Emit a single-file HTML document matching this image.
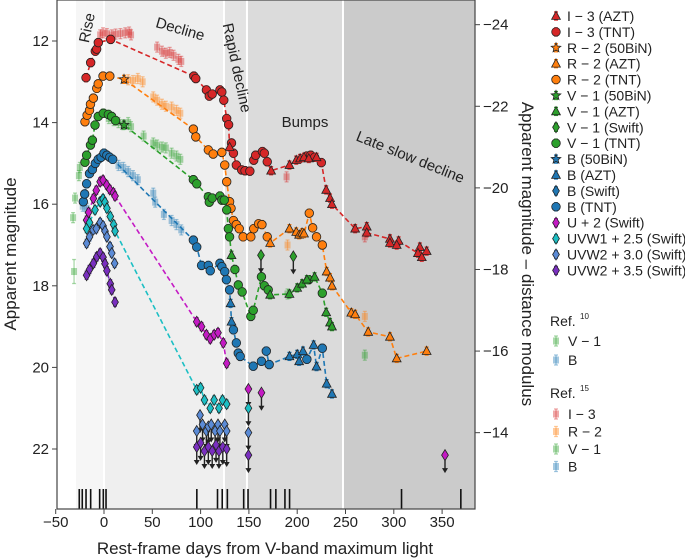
<!DOCTYPE html>
<html><head><meta charset="utf-8"><style>
body{margin:0;background:#fff;}
svg{font-family:"Liberation Sans",sans-serif;display:block}
</style></head><body>
<svg id="chart" width="685" height="560" viewBox="0 0 685 560" xmlns="http://www.w3.org/2000/svg">
<g id="bands"></g>
<g id="marks"></g>
<g id="axes"></g>
<g id="legend"></g>
</svg>
<script>
const PHASE_EDGES=[-29,0,124.2,148,247.4,385];
const PHASE_FILLS=["#f6f6f6","#efefef","#e3e3e3","#dbdbdb","#cbcbcb"];
const EVENTS=[-25.6,-22.5,-18.6,-13.8,-4.5,-0.7,2.1,96.1,117.5,122.4,127.7,144.6,149.1,172.4,177.9,187.3,192.1,308,369.4];
const X_TICKS=[-50,0,50,100,150,200,250,300,350];
const Y_TICKS=[12,14,16,18,20,22];
const Y2_TICKS=[-24,-22,-20,-18,-16,-14];
const DIST_MOD=35.6;

const I3_TNT=[[-18.6,12.9],[-13.8,12.53],[-9,12.25],[-7.6,12.2],[-5.9,12.04],[6.9,11.96],[93,12.86],[95,12.92],[106,13.2],[109,13.35],[112,13.3],[120,13.2],[122,13.25],[124,13.45],[127,13.9],[129,14.05],[132,14.5],[134,14.75],[137,15.04],[142.5,15.16],[146,15.18],[151,15.19],[155,14.92],[157,14.8],[164,14.71],[166,14.75],[169,14.96],[210,14.82],[214,14.8],[218,14.85],[225,14.98]];
const I3_AZT=[[130,14.6],[173,15.18],[192,15.04],[199,14.92],[203,14.88],[207,14.85],[212,14.88],[220,14.85],[230,15.65],[234,15.85],[236,16.0],[260,16.6],[272,16.55],[272,16.7],[296,16.85],[296,16.95],[305,16.9],[303,17.0],[327,17.05],[325,17.2],[334,17.15],[329,17.3]];
const I3_REF15=[[-4,11.85],[-1,11.8],[3,11.82],[8,11.85],[12,11.83],[17,11.82],[22,11.8],[26,11.78],[28,11.85],[55,12.15],[60,12.25],[64,12.3],[68,12.28],[72,12.35],[77,12.45],[80,12.5],[189,15.33],[270,16.8]];
const R_TNT=[[-19.7,13.98],[-17.5,13.82],[-15,13.7],[-14,13.55],[-11,13.4],[-7.5,13.16],[-6,13.05],[-1,12.86],[6,12.86],[92.5,14.16],[95,14.35],[108,14.67],[113,14.77],[122,14.73],[125,15.04],[127,15.45],[130,15.94],[131.5,16.1],[134,16.4],[137,16.5],[140,16.6],[144,16.8],[152,16.8],[155,16.6],[160,16.48],[163.5,16.5],[169,16.8],[212.5,16.22],[216,16.58],[220,16.8],[226,17.0]];
const R_AZT=[[172,16.95],[192,16.6],[199,16.68],[202,16.75],[205,16.7],[207,16.72],[230.5,17.65],[234,17.8],[236,18.0],[256,18.66],[260,18.7],[273.5,19.13],[296,19.25],[303,19.78],[334,19.6]];
const R_50BIN=[[20.7,12.94]];
const R_REF15=[[25,12.95],[30,12.97],[35,12.92],[40,13.0],[51,13.37],[55,13.45],[60,13.55],[64,13.6],[70,13.62],[75,13.7],[79,13.77],[190,17.0],[270,18.75]];
const V_TNT=[[-19.7,14.97],[-18,14.8],[-14,14.55],[-12,14.43],[-9.3,14.06],[-6,13.85],[-0.7,13.77],[4.5,13.8],[8,13.85],[12,13.95],[92.5,15.4],[96,15.5],[108,15.82],[109,15.95],[112,15.85],[120,15.8],[122,15.9],[124.5,15.9],[127,16.14],[128.7,16.6],[130,16.8],[135.5,17.6],[139,17.98],[143,18.15],[152,18.75],[154.5,18.6],[163,17.78],[166,18.0],[170,18.1],[212,17.85],[226,18.18]];
const V_AZT=[[132,17.25],[172,18.22],[192,18.2],[200,18.05],[205,17.95],[210,17.85],[218,17.78],[230,18.65],[234,18.9],[236,19.0]];
const V_50BIN=[[20.7,14.06]];
const V_SWIFT_LIM=[[162.5,17.25],[196,17.28]];
const V_REF10=[[-25,15.1],[-26,15.3],[-30,15.85],[-32,16.33],[-31,17.65]];
const V_REF15=[[5,13.9],[10,13.95],[15,14.0],[20,14.05],[25,14.0],[28,14.1],[41,14.33],[51,14.5],[55,14.55],[60,14.6],[64,14.62],[70,14.75],[75,14.82],[79,14.9],[190,18.2],[270,19.7]];
const B_TNT=[[-21.4,15.94],[-20,15.75],[-18,15.5],[-15,15.25],[-12,15.15],[-9,15.0],[-6,14.9],[-3,14.85],[0,14.75],[3,14.8],[6,14.85],[9,14.9],[92.5,16.88],[96,17.05],[101,17.5],[108,17.5],[110,17.63],[120,17.45],[122,17.53],[125,17.65],[126.7,17.85],[130,18.1],[134,19.08],[137,19.4],[139,19.65],[141,19.73],[154.5,19.97],[163,19.85],[168,19.6],[171,19.93],[210,19.8],[226,19.53]];
const B_AZT=[[131,18.43],[132,18.88],[192,19.73],[200,19.68],[202,19.85],[206,19.6],[217,19.45],[220,19.98],[230.5,20.4],[236,20.65]];
const B_REF10=[[-22,16.05],[-18,16.1]];
const B_REF15=[[15,15.05],[20,15.1],[25,15.2],[30,15.3],[35,15.4],[51,15.73],[53,15.95],[62,16.25],[70,16.4],[75,16.5],[80,16.63]];
const U_SWIFT=[[-18,16.39],[-16,16.2],[-11,15.86],[-8,15.66],[-4,15.45],[-1,15.41],[2.8,15.53],[6,15.64],[9.7,15.72],[11.4,15.8],[96,18.88],[101,19.0],[106,19.2],[110,19.3],[114,19.2],[118,19.15],[123.5,19.4],[127,19.9]];
const U_LIM=[[149.5,20.53],[163,20.62],[353,22.15]];
const W1_SWIFT=[[-18,16.6],[-15,16.45],[-9.3,16.14],[-4,15.94],[-1,15.87],[1,15.95],[3,16.1],[6.5,16.3],[10,16.5],[11.4,16.66],[96,20.55],[100,20.5],[104,20.8],[110,21.0],[114,20.8],[119,21.0],[122.7,20.8],[127,20.9]];
const W1_LIM=[[149.5,21.0]];
const W2A_SWIFT=[[-18,16.96],[-15,16.8],[-11.3,16.63],[-8,16.6],[-4,16.45],[-1,16.53],[1,16.66],[3,16.8],[6.2,17.04],[8,17.2],[11,17.45]];
const W2A_LIM=[[99.4,21.17],[96,21.56],[102,21.4],[106,21.56],[108,21.45],[111,21.4],[115,21.56],[118,21.4],[120,21.56],[125,21.4],[127,21.56],[149.5,21.6]];
const W2B_SWIFT=[[-18,17.74],[-15,17.6],[-11,17.45],[-7.5,17.29],[-4,17.2],[-1,17.3],[1,17.46],[3,17.63],[6.5,17.95],[8,18.1],[11.4,18.4]];
const W2B_LIM=[[96,21.95],[100,21.85],[104,22.05],[108,21.95],[112,22.05],[116,21.9],[119,22.05],[123,21.95],[127,22.0],[149.5,22.15]];

const NS="http://www.w3.org/2000/svg";
const PX0=104,PXS=0.966,PY0=41,PYS=40.8;
function xs(d){return PX0+d*PXS;}
function ys(m){return PY0+(m-12)*PYS;}
function mk(tag,attrs,parent){const e=document.createElementNS(NS,tag);for(const k in attrs)e.setAttribute(k,attrs[k]);parent.appendChild(e);return e;}
const bands=document.getElementById('bands'),marks=document.getElementById('marks'),axes=document.getElementById('axes'),legend=document.getElementById('legend');
const L=57,R=475,T=0,B=509;

for(let i=0;i<PHASE_FILLS.length;i++){
  const x1=Math.max(L,xs(PHASE_EDGES[i])),x2=Math.min(R,xs(PHASE_EDGES[i+1]));
  const r=mk('rect',{x:x1,y:T,width:x2-x1,height:B-T,fill:PHASE_FILLS[i]},bands);
  
  
}
for(let i=1;i<PHASE_EDGES.length-1;i++){
  const l=mk('line',{x1:xs(PHASE_EDGES[i]),x2:xs(PHASE_EDGES[i]),y1:T,y2:B,stroke:'#fff','stroke-width':2},bands);
  
  
}
const phaseLabels=[["Rise",88,28,-78],["Decline",180,30,16],["Rapid decline",236,68,78],["Bumps",305,123,0],["Late slow decline",410,158,22]];
phaseLabels.forEach(p=>{
  const t=mk('text',{x:p[1],y:p[2],'font-size':15,fill:'#222','text-anchor':'middle','dominant-baseline':'middle',transform:`rotate(${p[3]} ${p[1]} ${p[2]})`},bands);
  t.textContent=p[0];
  
  
});
EVENTS.forEach(d=>{
  const l=mk('line',{x1:xs(d),x2:xs(d),y1:489,y2:B,stroke:'#111','stroke-width':1.6},bands);
  
  
});

const COL={r:'#d62728',o:'#ff7f0e',g:'#2ca02c',b:'#1f77b4',u:'#c41ac4',c:'#1cbfc4',w2a:'#5b8bd6',w2b:'#7a2fc0'};

function shape(kind,x,y,color,parent,opts){
  opts=opts||{};
  const st={fill:color,stroke:opts.noedge?'none':'#222','stroke-width':0.8,'fill-opacity':opts.op||1,'stroke-opacity':opts.op||1};
  let e;
  if(kind==='o'){e=mk('circle',Object.assign({cx:x,cy:y,r:4.3},st),parent);}
  else if(kind==='^'){e=mk('polygon',Object.assign({points:`${x},${y-4.8} ${x+4.4},${y+3.4} ${x-4.4},${y+3.4}`},st),parent);}
  else if(kind==='d'){e=mk('polygon',Object.assign({points:`${x},${y-5.5} ${x+3.4},${y} ${x},${y+5.5} ${x-3.4},${y}`},st),parent);}
  else if(kind==='*'){let p=[];for(let i=0;i<10;i++){const a=-Math.PI/2+i*Math.PI/5,rr=i%2?2.2:5;p.push((x+rr*Math.cos(a)).toFixed(1)+','+(y+rr*Math.sin(a)).toFixed(1));}e=mk('polygon',Object.assign({points:p.join(' ')},st),parent);}
  else if(kind==='s'){e=mk('rect',Object.assign({x:x-3,y:y-3.5,width:6,height:7},st),parent);}
  return e;
}
function errbar(x,y,color,parent,op,h){
  h=h||4;
  mk('line',{x1:x,x2:x,y1:y-h,y2:y+h,stroke:color,'stroke-width':1.3,'stroke-opacity':op},parent);
  mk('line',{x1:x-2,x2:x+2,y1:y-h,y2:y-h,stroke:color,'stroke-width':1.3,'stroke-opacity':op},parent);
  mk('line',{x1:x-2,x2:x+2,y1:y+h,y2:y+h,stroke:color,'stroke-width':1.3,'stroke-opacity':op},parent);
}
function drawLine(arrs,color,name){
  const pts=[].concat(...arrs).slice().sort((a,b)=>a[0]-b[0]);
  const p=mk('polyline',{points:pts.map(q=>xs(q[0]).toFixed(1)+','+ys(q[1]).toFixed(1)).join(' '),fill:'none',stroke:color,'stroke-width':1.6,'stroke-dasharray':'5,3'},marks);
  
  
}
function drawSeries(data,kind,color,name){
  const g=mk('g',{},marks);
  
  
  data.forEach(q=>{const x=xs(q[0]),y=ys(q[1]);errbar(x,y,color,g,1);const s=shape(kind,x,y,color,g);
    
    });
}
function drawRef(data,color,name){
  const g=mk('g',{},marks);
  
  
  data.forEach(q=>{const x=xs(q[0]),y=ys(q[1]);errbar(x,y,color,g,0.4,q[1]>17.5&&q[0]<0?12:5);const s=shape('s',x,y,color,g,{op:0.4,noedge:true});
    
    });
}
function drawLim(data,color,name){
  const g=mk('g',{},marks);
  
  
  data.forEach(q=>{const x=xs(q[0]),y=ys(q[1]);
    mk('line',{x1:x,x2:x,y1:y,y2:y+16,stroke:'#222','stroke-width':1.4},g);
    mk('polygon',{points:`${x-3},${y+13} ${x+3},${y+13} ${x},${y+18}`,fill:'#222'},g);
    const s=shape('d',x,y,color,g);
    
    });
}

drawLine([I3_TNT,I3_AZT],COL.r,'i-band-line');
drawLine([R_TNT,R_AZT,R_50BIN],COL.o,'r-band-line');
drawLine([V_TNT,V_AZT,V_50BIN],COL.g,'v-band-line');
drawLine([B_TNT,B_AZT],COL.b,'b-band-line');
drawLine([U_SWIFT],COL.u,'u-band-line');
drawLine([W1_SWIFT],COL.c,'uvw1-line');
drawLine([W2A_SWIFT],COL.w2a,'uvw2-a-line');
drawLine([W2B_SWIFT],COL.w2b,'uvw2-b-line');
drawRef(I3_REF15,COL.r,'i-ref15');
drawRef(R_REF15,COL.o,'r-ref15');
drawRef(V_REF15,COL.g,'v-ref15');
drawRef(B_REF15,COL.b,'b-ref15');
drawRef(V_REF10,COL.g,'v-ref10');
drawRef(B_REF10,COL.b,'b-ref10');
drawSeries(I3_TNT,'o',COL.r,'i-tnt');
drawSeries(I3_AZT,'^',COL.r,'i-azt');
drawSeries(R_TNT,'o',COL.o,'r-tnt');
drawSeries(R_AZT,'^',COL.o,'r-azt');
drawSeries(R_50BIN,'*',COL.o,'r-50bin');
drawSeries(V_TNT,'o',COL.g,'v-tnt');
drawSeries(V_AZT,'^',COL.g,'v-azt');
drawSeries(V_50BIN,'*',COL.g,'v-50bin');
drawSeries(B_TNT,'o',COL.b,'b-tnt');
drawSeries(B_AZT,'^',COL.b,'b-azt');
drawSeries(U_SWIFT,'d',COL.u,'u-swift');
drawSeries(W1_SWIFT,'d',COL.c,'uvw1-swift');
drawSeries(W2A_SWIFT,'d',COL.w2a,'uvw2-a-swift');
drawSeries(W2B_SWIFT,'d',COL.w2b,'uvw2-b-swift');
drawLim(V_SWIFT_LIM,COL.g,'v-swift-limit');
drawLim(U_LIM,COL.u,'u-limit');
drawLim(W1_LIM,COL.c,'uvw1-limit');
drawLim(W2A_LIM,COL.w2a,'uvw2-a-limit');
drawLim(W2B_LIM,COL.w2b,'uvw2-b-limit');

const fr=mk('rect',{x:L,y:T,width:R-L,height:B-T,fill:'none',stroke:'#444','stroke-width':1.2},axes);


X_TICKS.forEach(v=>{const x=xs(v);mk('line',{x1:x,x2:x,y1:B,y2:B+5,stroke:'#444'},axes);
  const t=mk('text',{x:x,y:B+18,'font-size':15,'text-anchor':'middle',fill:'#222'},axes);t.textContent=(v<0?'\u2212'+(-v):v);
  
  });
Y_TICKS.forEach(v=>{const y=ys(v);mk('line',{x1:L-5,x2:L,y1:y,y2:y,stroke:'#444'},axes);
  const t=mk('text',{x:L-8,y:y+5,'font-size':15,'text-anchor':'end',fill:'#222'},axes);t.textContent=v;
  
  });
Y2_TICKS.forEach(v=>{const y=ys(v+DIST_MOD);mk('line',{x1:R,x2:R+5,y1:y,y2:y,stroke:'#444'},axes);
  const t=mk('text',{x:R+8,y:y+5,'font-size':15,'text-anchor':'start',fill:'#222'},axes);t.textContent='\u2212'+(-v);
  
  });
</script>
<svg style="position:absolute;left:0;top:0" width="685" height="560">
<text x="265" y="554" font-size="17" text-anchor="middle" fill="#222" font-family="Liberation Sans, sans-serif">Rest-frame days from V-band maximum light</text>
<text x="0" y="0" font-size="17" text-anchor="middle" fill="#222" font-family="Liberation Sans, sans-serif" transform="translate(16 254) rotate(-90)">Apparent magnitude</text>
<text x="0" y="0" font-size="17" text-anchor="middle" fill="#222" font-family="Liberation Sans, sans-serif" transform="translate(522 254) rotate(90)">Apparent magnitude – distance modulus</text>
</svg>
<script>
const LEG_LABELS=["I \u2212 3 (AZT)","I \u2212 3 (TNT)","R \u2212 2 (50BiN)","R \u2212 2 (AZT)","R \u2212 2 (TNT)","V \u2212 1 (50BiN)","V \u2212 1 (AZT)","V \u2212 1 (Swift)","V \u2212 1 (TNT)","B (50BiN)","B (AZT)","B (Swift)","B (TNT)","U + 2 (Swift)","UVW1 + 2.5 (Swift)","UVW2 + 3.0 (Swift)","UVW2 + 3.5 (Swift)"];
const LEG_KINDS=['^','o','*','^','o','*','^','d','o','*','^','d','o','d','d','d','d'];
const LEG_COLS=['r','r','o','o','o','g','g','g','g','b','b','b','b','u','c','w2a','w2b'];
const REF10_LABELS=["V \u2212 1","B"];const REF10_COLS=['g','b'];
const REF15_LABELS=["I \u2212 3","R \u2212 2","V \u2212 1","B"];const REF15_COLS=['r','o','g','b'];
(function(){
const lg=document.getElementById('legend');
LEG_LABELS.forEach((lab,i)=>{const y=16+i*15.9;const c=COL[LEG_COLS[i]];
  errbar(556,y,c,lg,1,4);shape(LEG_KINDS[i],556,y,c,lg);
  const t=mk('text',{x:567,y:y+5,'font-size':14,fill:'#222'},lg);t.textContent=lab;
  
  });
function head(txt,sup,y){const t=mk('text',{x:550,y:y,'font-size':14,fill:'#222'},lg);t.textContent=txt;
  
  
  const s=mk('text',{x:580,y:y-7,'font-size':8,fill:'#222'},lg);s.textContent=sup;}
head('Ref.','10',326);
REF10_LABELS.forEach((lab,i)=>{const y=341+i*19;const c=COL[REF10_COLS[i]];errbar(556,y,c,lg,0.4,5);shape('s',556,y,c,lg,{op:0.4,noedge:true});
  const t=mk('text',{x:568,y:y+5,'font-size':14,fill:'#222'},lg);t.textContent=lab;
  
  });
head('Ref.','15',398);
REF15_LABELS.forEach((lab,i)=>{const y=414+i*17.5;const c=COL[REF15_COLS[i]];errbar(556,y,c,lg,0.4,5);shape('s',556,y,c,lg,{op:0.4,noedge:true});
  const t=mk('text',{x:568,y:y+5,'font-size':14,fill:'#222'},lg);t.textContent=lab;
  
  });
})();
</script>
</body></html>
